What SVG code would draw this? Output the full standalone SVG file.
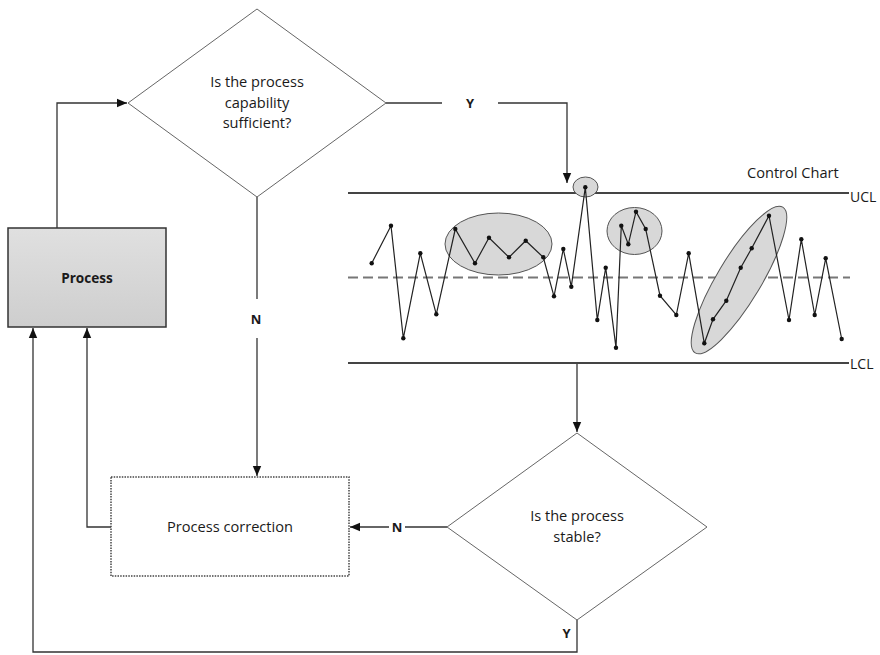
<svg xmlns="http://www.w3.org/2000/svg" width="880" height="655" viewBox="0 0 880 655">
<style>
text{font-family:"Open Sans","Liberation Sans",sans-serif;fill:#1a1a1a}
.t{font-size:14.6px;text-anchor:middle}
.lbl{font-size:13px;font-weight:bold;text-anchor:middle}
.dia{fill:#fff;stroke:#666;stroke-width:1}
.con{fill:none;stroke:#333;stroke-width:1.3}
.lim{stroke:#444;stroke-width:1.8}
.ell{fill:#d8d8d8;stroke:#555;stroke-width:1}
.pt{fill:#111}
</style>
<defs>
<marker id="ah" viewBox="0 0 10 10" refX="10" refY="5" markerWidth="10" markerHeight="10" markerUnits="userSpaceOnUse" orient="auto">
<path d="M0,0.8 L10,5 L0,9.2 z" fill="#111"/>
</marker>
<linearGradient id="pg" x1="0" y1="0" x2="0" y2="1">
<stop offset="0" stop-color="#e0e0e0"/>
<stop offset="1" stop-color="#cecece"/>
</linearGradient>
</defs>
<rect width="880" height="655" fill="#fff"/>

<g id="connectors">
<path class="con" d="M57,228 V103 H127" marker-end="url(#ah)"/>
<path class="con" d="M386,103 H442"/>
<path class="con" d="M498,103 H567 V183" marker-end="url(#ah)"/>
<text class="lbl" x="470" y="107.5">Y</text>
<path class="con" d="M257,197 V299"/>
<path class="con" d="M257,338 V476" marker-end="url(#ah)"/>
<text class="lbl" x="256" y="324">N</text>
<path class="con" d="M577,363 V432" marker-end="url(#ah)"/>
<path class="con" d="M447,527 H405"/>
<path class="con" d="M389,527 H350" marker-end="url(#ah)"/>
<text class="lbl" x="397" y="531.5">N</text>
<path class="con" d="M111,527 H87 V328" marker-end="url(#ah)"/>
<path class="con" d="M577,620 V652 H33 V328" marker-end="url(#ah)"/>
<text class="lbl" x="566.5" y="638">Y</text>
</g>

<g id="capability">
<polygon class="dia" points="257,9 386,103 257,197 128,103"/>
<text class="t" x="257" y="87">Is the process</text>
<text class="t" x="257" y="107.5">capability</text>
<text class="t" x="257" y="128">sufficient?</text>
</g>

<g id="process">
<rect x="8" y="228" width="158" height="99" fill="url(#pg)" stroke="#333" stroke-width="1.5"/>
<text class="t" x="87" y="283" style="font-weight:bold;font-size:13.6px">Process</text>
</g>

<g id="correction">
<rect x="111" y="477" width="238" height="99" fill="#fff" stroke="#444" stroke-width="1.5" stroke-dasharray="1.5,1.2"/>
<text class="t" x="230" y="532">Process correction</text>
</g>

<g id="stable">
<polygon class="dia" points="577,433 707,527 577,620 447,527"/>
<text class="t" x="577" y="520.5">Is the process</text>
<text class="t" x="577" y="541.5">stable?</text>
</g>

<g id="control-chart">
<text x="747" y="178" style="font-size:14.6px">Control Chart</text>
<line class="lim" x1="348" y1="193" x2="849" y2="193"/>
<line class="lim" x1="348" y1="363" x2="849" y2="363"/>
<text x="850" y="202" style="font-size:14px">UCL</text>
<text x="850" y="369" style="font-size:14px">LCL</text>
<line x1="348" y1="277.5" x2="850" y2="277.5" stroke="#777" stroke-width="2" stroke-dasharray="10,5"/>
<ellipse class="ell" cx="498.5" cy="244" rx="53.5" ry="31"/>
<ellipse class="ell" cx="585.5" cy="187" rx="12.5" ry="10"/>
<ellipse class="ell" cx="634.5" cy="231" rx="27.5" ry="23.5"/>
<ellipse class="ell" cx="739" cy="280" rx="85" ry="22" transform="rotate(-59 739 280)"/>
<polyline fill="none" stroke="#222" stroke-width="1.2" points="371.7,263.3 391,225.7 403.3,338.3 420.3,253.3 436.3,314.3 455.3,229 475,263.3 489,237.7 509,257.3 525.7,240.7 543.3,257.3 554,296.3 563.3,249 571.3,286.7 585.3,187.3 597.3,320 605.7,267.7 616,347.7 621.3,225.7 628.3,244.3 636,211.7 645.7,229 660,295.7 676.3,315 688.7,253.3 704.3,343.3 713,319.3 726.3,300.7 740.7,267.7 751.7,248.3 769,215.7 789,320 801.3,239.3 814.7,315 825.7,258.3 841.7,339"/>
<g class="pt">
<circle cx="371.7" cy="263.3" r="2.2"/><circle cx="391" cy="225.7" r="2.2"/><circle cx="403.3" cy="338.3" r="2.2"/><circle cx="420.3" cy="253.3" r="2.2"/><circle cx="436.3" cy="314.3" r="2.2"/><circle cx="455.3" cy="229" r="2.2"/><circle cx="475" cy="263.3" r="2.2"/><circle cx="489" cy="237.7" r="2.2"/><circle cx="509" cy="257.3" r="2.2"/><circle cx="525.7" cy="240.7" r="2.2"/><circle cx="543.3" cy="257.3" r="2.2"/><circle cx="554" cy="296.3" r="2.2"/><circle cx="563.3" cy="249" r="2.2"/><circle cx="571.3" cy="286.7" r="2.2"/><circle cx="585.3" cy="187.3" r="2.2"/><circle cx="597.3" cy="320" r="2.2"/><circle cx="605.7" cy="267.7" r="2.2"/><circle cx="616" cy="347.7" r="2.2"/><circle cx="621.3" cy="225.7" r="2.2"/><circle cx="628.3" cy="244.3" r="2.2"/><circle cx="636" cy="211.7" r="2.2"/><circle cx="645.7" cy="229" r="2.2"/><circle cx="660" cy="295.7" r="2.2"/><circle cx="676.3" cy="315" r="2.2"/><circle cx="688.7" cy="253.3" r="2.2"/><circle cx="704.3" cy="343.3" r="2.2"/><circle cx="713" cy="319.3" r="2.2"/><circle cx="726.3" cy="300.7" r="2.2"/><circle cx="740.7" cy="267.7" r="2.2"/><circle cx="751.7" cy="248.3" r="2.2"/><circle cx="769" cy="215.7" r="2.2"/><circle cx="789" cy="320" r="2.2"/><circle cx="801.3" cy="239.3" r="2.2"/><circle cx="814.7" cy="315" r="2.2"/><circle cx="825.7" cy="258.3" r="2.2"/><circle cx="841.7" cy="339" r="2.2"/>
</g>
</g>
</svg>
